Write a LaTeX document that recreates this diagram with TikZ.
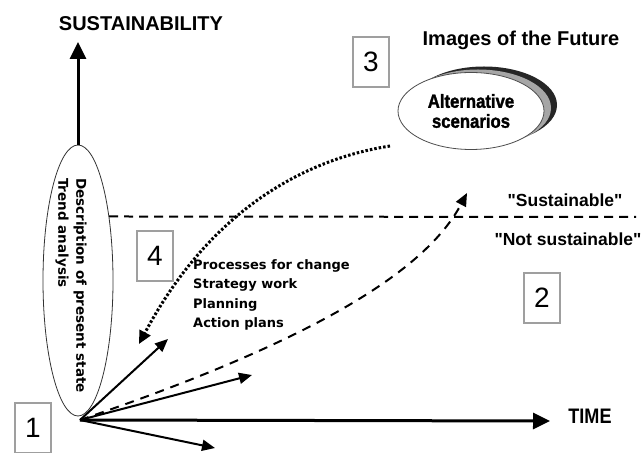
\documentclass[tikz,border=0pt]{standalone}
\usepackage{fontspec}
\setmainfont{Liberation Sans}[Ligatures=TeXOff]
\newfontfamily\narrowfont{Liberation Sans Bold}[FakeStretch=0.86, Ligatures=TeXOff]
\newfontfamily\heavyfont{Liberation Sans Bold}[FakeStretch=0.88, FakeBold=1.5]
\newfontfamily\smallfont{DejaVu Sans}
\usetikzlibrary{arrows.meta,shapes.geometric,positioning}

\tikzset{
    numbox/.style = {draw=gray!75, line width=1.2pt, minimum width=36pt,
                     minimum height=50pt, inner sep=0pt,
                     font=\fontsize{28}{30}\selectfont},
    axis/.style   = {line width=3pt, -{Triangle[length=17pt,width=16pt]}},
    fan/.style    = {line width=2pt, -{Triangle[length=13pt,width=11pt]}},
    bigtext/.style = {font=\bfseries\fontsize{20}{24}\selectfont},
    midtext/.style = {font=\bfseries\fontsize{17.5}{20}\selectfont},
    smalltext/.style = {align=left, inner sep=0pt,
                     font=\smallfont\bfseries\fontsize{13}{19.5}\selectfont},
}

\begin{document}
\begin{tikzpicture}[x=1pt, y=1pt]
    \useasboundingbox (0,0) rectangle (644,452);

    % present state
    \node (desc) [ellipse, draw=black!80, line width=0.8pt,
                  minimum width=70pt, minimum height=271pt] at (78,171.5) {};
    \node (desctext) [rotate=-90, align=left, inner sep=0pt,
                      font=\smallfont\bfseries\fontsize{13.5}{18}\selectfont]
        at (71,166.5) {Description of present state\\Trend analysis};

    % axes
    \coordinate (origin) at (80,32);
    \coordinate (ytip) at (78,410);
    \coordinate (xtip) at (550,31);
    \draw [axis] (desc.north) -- (ytip);
    \draw [axis] (origin) -- (xtip);
    \node (ylabel) [bigtext] at (141,428) {SUSTAINABILITY};
    \node (xlabel) [font=\narrowfont\fontsize{21}{24}\selectfont] at (590,36) {TIME};

    % limit line
    \coordinate (limitend) at (636,235);
    \draw [line width=2pt, dash pattern=on 9pt off 6pt] (desc.64) -- (limitend);
    \node (sus) [midtext] at (565,252) {"Sustainable"};
    \node (notsus) [midtext] at (568,213) {"Not sustainable"};

    % images of the future
    \node (scenblack) [ellipse, fill=black!85, minimum width=146pt, minimum height=77pt]
        at (484,347) {};
    \node (scengray) [ellipse, fill=gray!70, minimum width=146pt, minimum height=77pt]
        at (478,344) {};
    \node (scen) [ellipse, draw=black!70, fill=white, line width=0.8pt,
                  minimum width=146pt, minimum height=77pt, align=center,
                  font=\heavyfont\fontsize{19}{20}\selectfont]
        at (471,341) {Alternative\\scenarios};
    \node (images) [bigtext] at (521,412) {Images of the Future};

    % fan of paths
    \coordinate (fanup) at (168,113);
    \coordinate (fanmid) at (252,77);
    \coordinate (fandown) at (215,4);
    \draw [fan] (origin) -- (fanup);
    \draw [fan] (origin) -- (fanmid);
    \draw [fan] (origin) -- (fandown);

    % back-casting and change
    \coordinate (dashtip) at (467,259);
    \draw [line width=2pt, dash pattern=on 9pt off 7pt,
           -{Triangle[length=13pt,width=11pt]}]
        (origin) .. controls (280,100) and (420,170) .. (dashtip);
    \coordinate (dotstart) at (390,306);
    \coordinate (dottip) at (139,108);
    \draw [line width=3pt, dash pattern=on 2.5pt off 2pt,
           -{Triangle[length=13pt,width=12pt]}]
        (dotstart) .. controls (300,292) and (208,238) .. (dottip);
    \node (process) [smalltext, anchor=west] at (193,157)
        {Processes for change\\Strategy work\\Planning\\Action plans};

    % numbered boxes
    \node (box1) [numbox] at (33,24) {1};
    \node (box2) [numbox] at (542,154) {2};
    \node (box3) [numbox] at (371,390) {3};
    \node (box4) [numbox] at (155,196) {4};
\end{tikzpicture}
\end{document}
